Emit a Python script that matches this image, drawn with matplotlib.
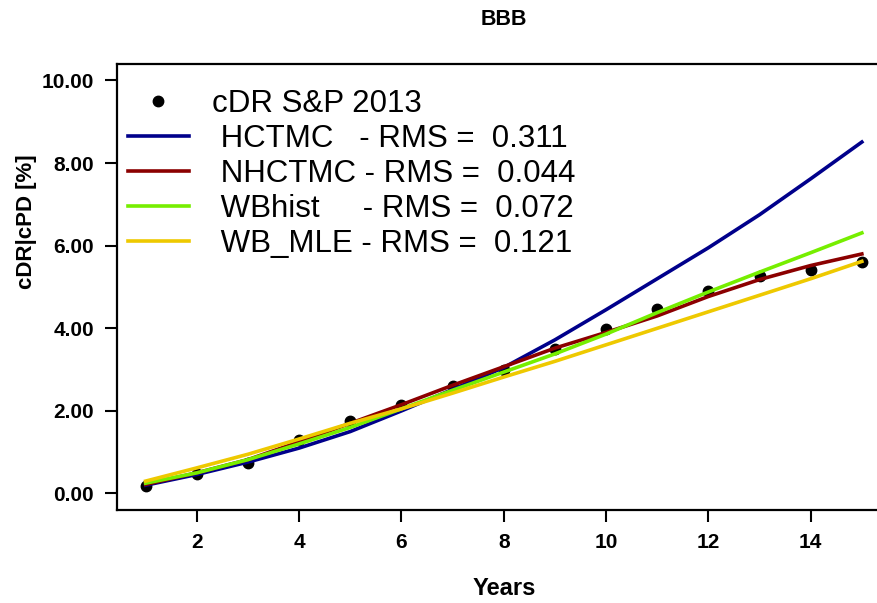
import matplotlib.pyplot as plt

plt.rcParams['font.family'] = ['Liberation Sans', 'DejaVu Sans']

# data
years = list(range(1, 16))
cdr_sp = [0.18, 0.47, 0.74, 1.3, 1.75, 2.15, 2.6, 3.0, 3.5, 3.98, 4.47, 4.91, 5.27, 5.40, 5.61]
hctmc = [0.2, 0.46, 0.76, 1.1, 1.5, 2.0, 2.52, 3.05, 3.72, 4.45, 5.2, 5.95, 6.75, 7.62, 8.51]
nhctmc = [0.22, 0.5, 0.82, 1.25, 1.7, 2.15, 2.62, 3.07, 3.52, 3.9, 4.3, 4.77, 5.18, 5.52, 5.8]
wbhist = [0.25, 0.5, 0.82, 1.2, 1.6, 2.05, 2.5, 2.94, 3.38, 3.86, 4.38, 4.88, 5.36, 5.83, 6.31]
wb_mle = [0.3, 0.62, 0.95, 1.32, 1.7, 2.05, 2.43, 2.82, 3.2, 3.6, 4.0, 4.4, 4.8, 5.2, 5.62]

labels = ['cDR S&P 2013',
          ' HCTMC   - RMS =  0.311',
          ' NHCTMC - RMS =  0.044',
          ' WBhist     - RMS =  0.072',
          ' WB_MLE - RMS =  0.121']
colors = ['#00008B', '#8B0000', '#76EE00', '#EEC900']

fig = plt.figure(figsize=(8.77, 6.03), dpi=100)
ax = fig.add_axes([0.1334, 0.1542, 0.882, 0.7397])

ax.plot(years, cdr_sp, 'o', color='black', markersize=7.5, label=labels[0], zorder=2)
for series, c, lab in zip([hctmc, nhctmc, wbhist, wb_mle], colors, labels[1:]):
    ax.plot(years, series, color=c, linewidth=2.6, label=lab, zorder=3)

ax.set_xlim(0.44, 15.56)
ax.set_ylim(-0.4, 10.4)
ax.set_xticks([2, 4, 6, 8, 10, 12, 14])
ax.set_yticks([0, 2, 4, 6, 8, 10])
ax.set_yticklabels(['%.2f' % v for v in [0, 2, 4, 6, 8, 10]])
ax.tick_params(length=8.5, width=1.5, pad=8, labelsize=15)
for t in ax.get_xticklabels() + ax.get_yticklabels():
    t.set_fontweight('bold')
for s in ax.spines.values():
    s.set_linewidth(1.6)

ax.set_title('BBB', fontsize=15.5, fontweight='bold', pad=28)
ax.set_xlabel('Years', fontsize=17, fontweight='bold', labelpad=18)
fig.text(0.03, 0.632, 'cDR|cPD [%]', rotation=90, fontsize=16,
         fontweight='bold', ha='center', va='center')

ax.legend(loc='upper left', bbox_to_anchor=(-0.01, 0.985), frameon=False,
          fontsize=22.5, handlelength=1.95, handletextpad=0.75, labelspacing=0.16,
          borderaxespad=0.2)

fig.savefig('out.png', dpi=100)
